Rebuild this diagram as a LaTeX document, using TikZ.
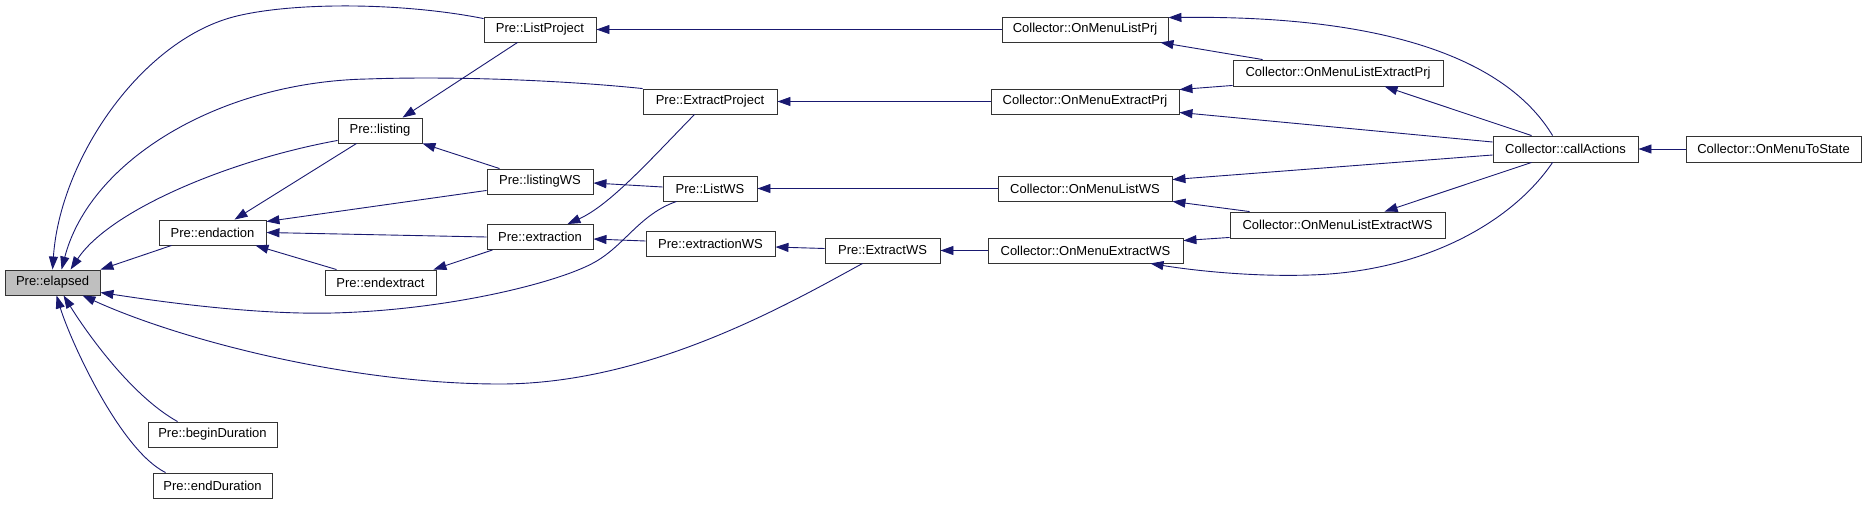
\documentclass[tikz,border=0pt]{standalone}
\usepackage{fontspec}
\setmainfont{Liberation Sans}
\usetikzlibrary{arrows.meta,calc}
\definecolor{edgeblue}{RGB}{25,25,112}
\definecolor{boxgray}{RGB}{191,191,191}
\begin{document}
\begin{tikzpicture}[x=1pt,y=-1pt,
  nd/.style={draw=black!80,line width=0.9pt,fill=white,inner sep=0pt,minimum height=25pt,font=\fontsize{13}{15}\selectfont},
  e/.style={draw=edgeblue,line width=0.9pt,-{Triangle[length=13pt,width=9pt]}}]
\useasboundingbox (0,0) rectangle (1867,504);
% nodes
\node[nd,fill=boxgray,minimum width=95pt] (el) at (52.5,282.5) {Pre::elapsed};
\node[nd,minimum width=107pt] (ea) at (212.5,232.5) {Pre::endaction};
\node[nd,minimum width=129pt] (bd) at (212.5,434.5) {Pre::beginDuration};
\node[nd,minimum width=119pt] (ed) at (212.5,485.5) {Pre::endDuration};
\node[nd,minimum width=84pt] (li) at (380,130.5) {Pre::listing};
\node[nd,minimum width=111pt] (ex2) at (380.5,282.5) {Pre::endextract};
\node[nd,minimum width=112pt] (lp) at (540,29.5) {Pre::ListProject};
\node[nd,minimum width=106pt] (lws) at (540,181.5) {Pre::listingWS};
\node[nd,minimum width=106pt] (ext) at (540,237) {Pre::extraction};
\node[nd,minimum width=134pt] (ep) at (710,101.5) {Pre::ExtractProject};
\node[nd,minimum width=94pt] (lw) at (710,188.5) {Pre::ListWS};
\node[nd,minimum width=129pt] (ew) at (710.5,244) {Pre::extractionWS};
\node[nd,minimum width=115pt] (xw) at (882.5,250.5) {Pre::ExtractWS};
\node[nd,minimum width=166pt] (mlp) at (1085,29.5) {Collector::OnMenuListPrj};
\node[nd,minimum width=188pt] (mep) at (1085,101.5) {Collector::OnMenuExtractPrj};
\node[nd,minimum width=174pt] (mlw) at (1085,188.5) {Collector::OnMenuListWS};
\node[nd,minimum width=195pt] (mew) at (1085.5,250.5) {Collector::OnMenuExtractWS};
\node[nd,minimum width=210pt,minimum height=26pt] (mlep) at (1338,73) {Collector::OnMenuListExtractPrj};
\node[nd,minimum width=215pt,minimum height=26pt] (mlew) at (1337.5,225) {Collector::OnMenuListExtractWS};
\node[nd,minimum width=145pt,minimum height=26pt] (ca) at (1565.5,149) {Collector::callActions};
\node[nd,minimum width=175pt,minimum height=26pt] (mts) at (1773.5,149) {Collector::OnMenuToState};
% edges into elapsed
\draw[e] ($(lp.north west)+(0,2)$) .. controls (400,2) and (290,2) .. (233,17) .. controls (140,42) and (60,160) .. ($(el.north west)+(48,0)$);
\draw[e] (ep.north west) .. controls (560,80) and (450,76) .. (367,79) .. controls (220,82) and (90,160) .. ($(el.north west)+(57,0)$);
\draw[e] ($(li.south west)+(0,-3)$) .. controls (230,160) and (110,210) .. ($(el.north west)+(66,0)$);
\draw[e] ($(ea.south west)+(13,0)$) -- (el.north east);
\draw[e] ($(lw.south west)+(14,0)$) .. controls (640,214) and (625,245) .. (595,262) .. controls (560,282) and (450,310) .. (333,313) .. controls (250,315) and (150,300) .. ($(el.east)+(0,10)$);
\draw[e] ($(xw.south west)+(38,0)$) .. controls (790,303) and (650,384) .. (500,384) .. controls (350,384) and (180,340) .. ($(el.south east)+(-18,0)$);
\draw[e] ($(bd.north west)+(30,0)$) .. controls (130,395) and (85,330) .. ($(el.south west)+(59,0)$);
\draw[e] ($(ed.north west)+(13,0)$) .. controls (120,450) and (70,340) .. ($(el.south west)+(52,0)$);
% middle
\draw[e] ($(lp.south west)+(34,0)$) -- ($(li.north west)+(65,0)$);
\draw[e] ($(li.south west)+(19,0)$) -- ($(ea.north west)+(76,0)$);
\draw[e] ($(lws.north west)+(13,0)$) -- (li.south east);
\draw[e] ($(lws.south west)+(0,-4)$) -- ($(ea.north east)+(0,2)$);
\draw[e] (ext.west) -- (ea.east);
\draw[e] ($(ex2.north west)+(12,0)$) -- ($(ea.south east)+(-11,0)$);
\draw[e] ($(ext.south west)+(6,0)$) -- ($(ex2.north east)+(-3,0)$);
\draw[e] ($(ep.south west)+(52,0)$) .. controls (650,160) and (610,205) .. ($(ext.north east)+(-26,0)$);
\draw[e] ($(lw.west)+(0,-1.5)$) -- ($(lws.east)+(0,1.5)$);
\draw[e] ($(ew.west)+(0,-3)$) -- ($(ext.east)+(0,2)$);
\draw[e] (mlp.west) -- (lp.east);
\draw[e] (mep.west) -- (ep.east);
\draw[e] (mlw.west) -- (lw.east);
\draw[e] ($(xw.west)+(0,-2)$) -- ($(ew.east)+(0,3)$);
\draw[e] (mew.west) -- (xw.east);
% right
\draw[e] ($(mlep.north west)+(30,0)$) -- ($(mlp.south east)+(-8,0)$);
\draw[e] ($(mlep.south west)+(0,-1)$) -- ($(mep.north east)+(0,1)$);
\draw[e] ($(ca.north west)+(60,0)$) .. controls (1510,65) and (1400,15) .. ($(mlp.north east)+(0,1)$);
\draw[e] ($(ca.north west)+(39,0)$) -- ($(mlep.south west)+(152,0)$);
\draw[e] ($(ca.west)+(0,-7)$) -- ($(mep.south east)+(0,-2)$);
\draw[e] ($(ca.west)+(0,6)$) -- ($(mlw.north east)+(0,4)$);
\draw[e] ($(ca.south west)+(39,0)$) -- ($(mlew.north west)+(155,0)$);
\draw[e] ($(ca.south west)+(60,0)$) .. controls (1510,225) and (1420,272) .. (1310,275) .. controls (1250,277) and (1190,270) .. ($(mew.south east)+(-33,0)$);
\draw[e] ($(mlew.north west)+(20,0)$) -- (mlw.south east);
\draw[e] ($(mlew.south west)+(0,-1)$) -- ($(mew.north east)+(0,3)$);
\draw[e] (mts.west) -- (ca.east);
\end{tikzpicture}
\end{document}
